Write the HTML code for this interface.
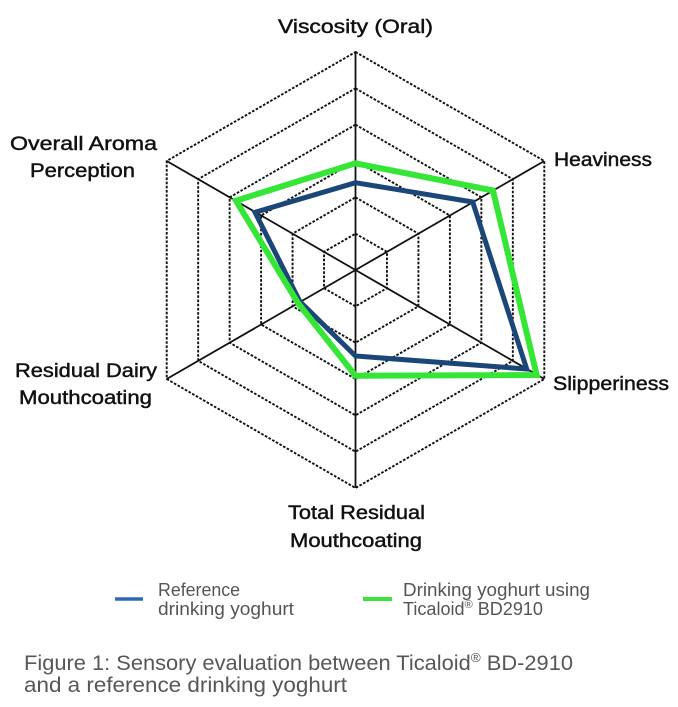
<!DOCTYPE html>
<html>
<head>
<meta charset="utf-8">
<style>
  html, body { margin: 0; padding: 0; background: #ffffff; }
  body { width: 678px; height: 707px; overflow: hidden; }
  svg { display: block; }
</style>
</head>
<body>
<svg width="678" height="707" viewBox="0 0 678 707" xmlns="http://www.w3.org/2000/svg">
  <rect x="0" y="0" width="678" height="707" fill="#ffffff"/>

  <!-- Dashed hexagon rings -->
  <g fill="none" stroke="#111" stroke-width="1.9" stroke-dasharray="2.6 1.6">
    <polygon points="355.5,233.67 386.96,251.83 386.96,288.17 355.5,306.33 324.04,288.17 324.04,251.83"/>
    <polygon points="355.5,197.33 418.43,233.67 418.43,306.33 355.5,342.67 292.57,306.33 292.57,233.67"/>
    <polygon points="355.5,161 449.9,215.5 449.9,324.5 355.5,379 261.1,324.5 261.1,215.5"/>
    <polygon points="355.5,124.67 481.36,197.33 481.36,342.67 355.5,415.33 229.64,342.67 229.64,197.33"/>
    <polygon points="355.5,88.33 512.83,179.17 512.83,360.83 355.5,451.67 198.17,360.83 198.17,179.17"/>
    <polygon points="355.5,52 544.29,161 544.29,379 355.5,488 166.71,379 166.71,161"/>
  </g>

  <!-- Spokes -->
  <g stroke="#111" stroke-width="1.8">
    <line x1="355.5" y1="270" x2="355.5" y2="52"/>
    <line x1="355.5" y1="270" x2="544.29" y2="161"/>
    <line x1="355.5" y1="270" x2="544.29" y2="379"/>
    <line x1="355.5" y1="270" x2="355.5" y2="488"/>
    <line x1="355.5" y1="270" x2="166.71" y2="379"/>
    <line x1="355.5" y1="270" x2="166.71" y2="161"/>
  </g>

  <!-- Series -->
  <polygon fill="none" stroke="#1b4678" stroke-width="5" stroke-linejoin="miter"
    points="355.5,182.7 472.7,202 526.7,369 355.5,356 300,301.7 255,212.3"/>
  <polygon fill="none" stroke="#36e636" stroke-width="6" stroke-linejoin="miter"
    points="355.5,163.3 493,190.5 536.7,375 355.5,375.7 298,303 236,200.7"/>

  <!-- Axis labels -->
  <g font-family="'Liberation Sans', sans-serif" font-size="19.5" fill="#111" stroke="#111" stroke-width="0.45">
    <text x="278" y="33" textLength="155" lengthAdjust="spacingAndGlyphs">Viscosity (Oral)</text>
    <text x="554" y="166" textLength="98" lengthAdjust="spacingAndGlyphs">Heaviness</text>
    <text x="553" y="390" textLength="116" lengthAdjust="spacingAndGlyphs">Slipperiness</text>
    <text x="288" y="519" textLength="137" lengthAdjust="spacingAndGlyphs">Total Residual</text>
    <text x="290" y="547" textLength="132" lengthAdjust="spacingAndGlyphs">Mouthcoating</text>
    <text x="15" y="377" textLength="142" lengthAdjust="spacingAndGlyphs">Residual Dairy</text>
    <text x="19" y="404" textLength="133" lengthAdjust="spacingAndGlyphs">Mouthcoating</text>
    <text x="10" y="150" textLength="147" lengthAdjust="spacingAndGlyphs">Overall Aroma</text>
    <text x="30" y="177" textLength="105" lengthAdjust="spacingAndGlyphs">Perception</text>
  </g>

  <!-- Legend -->
  <line x1="115" y1="599" x2="143" y2="599" stroke="#2b6bb2" stroke-width="3.5"/>
  <line x1="363" y1="599" x2="392" y2="599" stroke="#3de23d" stroke-width="4"/>
  <g font-family="'Liberation Sans', sans-serif" font-size="18" fill="#555">
    <text x="158" y="596" textLength="82" lengthAdjust="spacingAndGlyphs">Reference</text>
    <text x="158" y="615" textLength="136" lengthAdjust="spacingAndGlyphs">drinking yoghurt</text>
    <text x="403" y="596" textLength="187" lengthAdjust="spacingAndGlyphs">Drinking yoghurt using</text>
    <text x="403" y="615" textLength="140" lengthAdjust="spacingAndGlyphs">Ticaloid<tspan font-size="11" dy="-7">®</tspan><tspan dy="7"> BD2910</tspan></text>
  </g>

  <!-- Caption -->
  <g font-family="'Liberation Sans', sans-serif" font-size="21" fill="#575757">
    <text x="24" y="670" textLength="549" lengthAdjust="spacingAndGlyphs">Figure 1: Sensory evaluation between Ticaloid<tspan font-size="13" dy="-8">®</tspan><tspan dy="8"> BD-2910</tspan></text>
    <text x="24" y="692" textLength="323" lengthAdjust="spacingAndGlyphs">and a reference drinking yoghurt</text>
  </g>
</svg>
</body>
</html>
